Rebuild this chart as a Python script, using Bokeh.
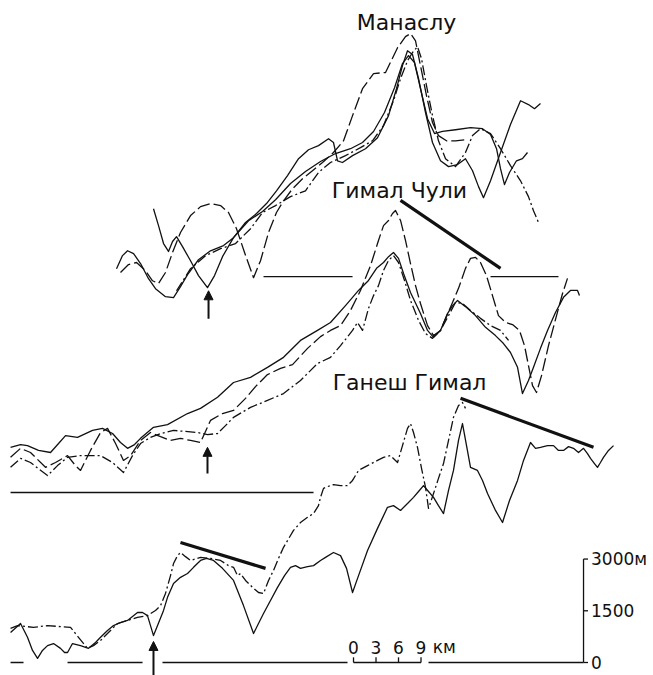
from bokeh.plotting import figure
from bokeh.models import Range1d, Arrow, NormalHead
from bokeh.core.properties import value
from bokeh.embed import file_html
from bokeh.resources import INLINE

# ---------------- data: distance along profile (km), height above profile base (m) ----------------
# Manaslu (4 profiles)
manaslu_a_km = [19.33,20.0,20.67,21.33,21.87,22.4,23.2,24.27,25.33,26.53,27.47,28.53,30.0,31.6,33.07,34.4,35.73,37.2,38.67,40.0,
                41.33,42.67,43.33,43.87,44.53,45.87,47.6,49.2,50.67,51.73,52.53,53.2,53.87,54.67,55.6,56.53,57.6,58.67,59.87,60.93,
                61.87,62.67,63.33,64.27,65.6,66.93,68.27,69.33,70.13,70.93]
manaslu_a_m = [1970,1480,960,730,1020,1160,870,460,30,-320,30,580,1130,1570,1830,2120,2490,2930,3420,3680,
               3800,4000,3890,3360,3310,3510,3710,4030,4670,5450,6120,6550,6440,5740,4760,3890,3360,3190,3250,3420,
               3070,2610,2290,2780,3600,4410,5100,4990,4870,5020]
manaslu_b_km = [14.4,15.2,15.87,16.67,17.6,18.67,19.6,20.93,22.0,22.93,23.87,25.33,26.93,28.67,30.0,32.0,33.87,35.6,37.6,39.6,
                41.6,43.6,45.6,47.2,48.67,50.13,51.47,52.53,53.33,54.13,54.93,55.87,56.8,57.87,59.6,61.6,63.2,64.27,65.07,65.6,
                66.13,66.8,67.73,68.53,69.2]
manaslu_b_m = [230,610,750,670,380,-60,-350,-580,-610,-290,60,490,750,900,1130,1620,1890,2230,2700,3050,
               3340,3570,3710,3890,4210,4760,5480,6180,6410,6210,5450,4580,4150,4210,4260,4320,4290,4120,3710,3130,
               2670,3020,3360,3420,3600]
manaslu_c_km = [22.4,24.27,26.27,28.27,30.27,32.27,33.87,35.6,37.6,39.6,41.33,42.93,44.93,46.93,48.53,50.0,51.33,52.27,53.2,53.87,
                54.53,55.07,55.73,56.53,57.33,58.27,59.6,60.93,61.87,62.93,64.27,65.6,66.93,68.27,69.33,70.0,70.67]
manaslu_c_m = [-410,230,610,810,960,1390,1860,2060,2320,2490,3020,3310,3510,3740,3940,4380,5100,5740,6260,6500,
               6670,6320,5540,4670,3940,3420,3190,3600,4090,4290,4150,3710,3220,2780,2320,1910,1570]
manaslu_d_km = [14.93,16.0,17.07,18.27,19.2,20.0,20.93,21.87,22.93,24.27,25.6,26.93,28.27,29.33,30.4,31.47,32.67,33.6,34.67,35.73,
                36.67,37.87,39.2,40.53,41.87,43.33,44.67,45.87,47.2,48.67,50.27,51.87,52.93,53.6,54.27,54.93,55.73,56.53,57.33,58.4,
                59.6,60.93]
manaslu_d_m = [120,350,410,170,-120,-200,120,700,1280,1770,2030,2120,2060,1860,1390,700,-30,460,1280,1860,
               2200,2550,2840,3070,3310,3600,3940,4670,5450,5890,5920,6640,6960,7050,6840,6120,5250,4470,4090,3940,
               3940,3970]

# Himal Chuli (3 profiles)
himal_a_km = [0.27,1.6,2.93,4.93,6.27,7.87,8.93,9.6,10.93,12.27,13.2,14.27,15.33,16.27,17.6,18.93,20.27,21.6,22.93,24.27,
              25.6,26.93,28.53,30.0,31.6,32.93,34.53,36.27,37.87,39.87,41.6,42.93,44.27,45.6,46.93,48.27,49.33,50.0,50.67,51.2,
              51.6,52.27,52.93,53.6,54.27,54.93,55.87,56.67,57.6,58.93,60.0,60.93,61.6,62.27,62.93,63.73,64.53,65.33,66.27,67.2,
              68.13,68.8,69.33,69.87,70.4,71.07,72.0,73.07,73.87,74.53]
himal_a_m = [1020,1280,1160,730,870,1070,780,640,1220,1740,1860,1420,930,1070,1510,1740,1620,1510,1570,1510,
             1450,2090,2290,2380,2730,3070,3420,3600,3710,4180,4520,4700,4840,5280,5860,6580,7310,7740,7890,8090,
             8180,7890,7310,6640,6000,5480,4840,4550,4700,5370,5920,6500,6790,6820,6670,6290,5710,5130,4930,4870,
             4700,4260,3680,3100,2900,3390,4260,5130,5770,6210]
himal_b_km = [0.27,1.6,2.53,4.0,5.6,6.67,7.6,9.2,11.2,12.53,13.87,14.93,15.87,16.8,17.6,19.33,21.2,23.87,25.6,27.87,
              30.0,32.27,34.53,36.67,38.93,41.2,42.93,44.93,46.67,48.0,49.07,50.0,50.67,51.33,52.0,52.67,53.6,54.93,55.87,56.67,
              57.6,58.53,59.2,59.87,60.93,62.27,63.6,64.93,66.0,66.93,67.87,68.53,69.33,70.0,70.93,71.87,72.93,74.0,74.93,75.87,
              76.13]
himal_b_m = [1310,1390,1360,1220,1160,1420,1650,1600,1800,1860,1710,1450,1280,1390,1570,1890,1970,2290,2440,2760,
             3190,3340,3630,3920,4410,4700,4930,5420,5860,6150,6500,6670,6840,6960,6790,6350,5800,5190,4700,4500,
             4700,5190,5420,5570,5390,5130,4790,4550,4320,4060,3630,2870,3250,3630,4180,4700,5220,5660,5860,5860,
             5710]
himal_c_km = [0.27,1.6,2.93,5.2,6.53,7.87,9.6,12.27,13.87,15.33,16.53,17.6,18.93,20.27,22.0,23.6,25.2,26.53,27.87,28.93,
              30.0,32.27,34.53,36.67,38.93,41.2,42.93,44.27,45.33,45.87,46.53,47.2,48.0,48.67,49.33,50.0,50.67,51.33,52.0,52.8,
              53.6,54.67,55.6,56.53,57.6,58.67,59.6,60.53,61.6,62.93,64.27,65.6,66.67]
himal_c_m = [730,990,870,490,780,1020,1070,1070,870,580,1070,1420,1600,1710,1800,1770,1740,1680,1710,1940,
             2180,2470,2670,2870,3250,3740,3920,4260,4550,4700,4930,4700,5340,5710,6000,6440,6730,6870,6670,6150,
             5570,4990,4610,4470,4700,5130,5510,5480,5280,5050,4840,4700,4410]

# Ganesh Himal (2 profiles)
ganesh_dd_km = [0.27,1.2,3.33,5.2,6.93,8.27,9.33,10.53,11.33,12.27,13.33,14.53,15.87,17.2,18.53,19.6,20.27,20.93,21.6,22.0,
                22.53,22.93,23.6,24.27,25.6,26.93,28.27,29.33,30.0,30.53,30.93,31.6,32.53,33.33,34.0,34.67,35.33,36.0,36.67,38.0,
                38.93,39.87,40.67,41.33,41.6,42.0,42.53,43.33,44.27,45.2,45.87,46.67,47.87,49.2,50.0,50.93,51.87,52.53,53.2,53.6,
                54.0,54.53,55.07,55.6,56.0,56.67,57.33,58.0,58.67,59.33,60.0,60.53,60.93]
ganesh_dd_m = [990,1070,1020,1070,1040,1020,730,410,490,640,870,1130,1220,1310,1360,1510,1650,2000,2520,2870,
               3100,3190,3070,2960,3050,3020,2960,2810,2760,2520,2580,2380,2180,2030,2000,2380,2670,3020,3340,3830,
               4060,4210,4320,4550,4790,5050,5100,5160,5130,5130,5280,5570,5710,5860,5950,6000,5800,6290,6790,6930,
               6670,6240,5630,5080,4470,4900,5340,5770,6440,7110,7450,7540,7370]
ganesh_s_km = [0.27,1.6,2.53,3.2,3.87,4.53,5.2,6.0,6.93,7.47,7.87,8.53,9.6,10.67,11.6,12.27,13.2,14.0,14.93,15.87,
               17.2,17.87,18.53,18.93,19.33,19.87,20.67,21.2,22.0,22.93,23.87,24.67,25.6,26.4,27.33,28.53,30.0,31.33,32.67,33.33,
               34.0,34.93,35.87,36.8,37.6,38.27,38.93,39.87,40.67,41.6,42.27,43.33,44.27,45.07,45.87,46.67,47.87,49.2,50.53,51.33,
               52.27,53.2,54.0,54.67,55.33,56.0,56.67,57.33,58.0,58.67,59.33,60.0,60.53,61.07,61.6,62.53,63.2,63.87,64.93,65.87,
               66.8,67.87,68.67,69.6,70.27,70.93,71.87,72.67,73.33,74.0,74.67,75.33,76.0,76.67,77.2,77.6,78.13,78.53,78.93,79.33,
               80.0,80.67]
ganesh_s_m = [870,1130,730,350,120,350,490,550,410,290,290,550,490,410,580,730,930,1070,1160,1220,
              1450,1450,1360,1070,780,1070,1510,1890,2290,2470,2580,2760,2960,3020,2960,2730,2380,1650,840,1130,
              1420,1800,2180,2520,2760,2810,2730,2780,2810,2960,3050,3190,3100,2730,2030,2520,3250,3890,4500,4550,
              4410,4610,4790,4960,5130,4960,4790,4550,4320,4990,5570,6440,6930,6290,5660,5570,5280,4900,4410,4060,
              4700,5280,5860,6380,6210,6240,6290,6290,6150,6150,6260,6210,6090,6210,6060,5920,5770,5660,5800,5950,
              6150,6290]

# summit-slope lines (km, m)
himal_slope_km = [52.27, 65.6]
himal_slope_m = [8470, 6500]
ganesh_slope1_km = [22.93, 34.27]
ganesh_slope1_m = [3480, 2730]
ganesh_slope2_km = [60.27, 78.0]
ganesh_slope2_m = [7660, 6240]

# profile base lines (start km, end km)
manaslu_base_km = [(34.0, 45.87), (64.27, 73.33)]
himal_base_km = [(0.27, 40.67)]
ganesh_base_km = [(0.27, 2.0), (7.87, 17.87), (20.53, 45.2), (56.0, 76.67)]

# arrows: km position, tail m, tip m (relative to profile base)
manaslu_arrow = (26.67, -1220, -410)
himal_arrow = (26.53, 550, 1310)
ganesh_arrow = (19.33, -380, 610)

titles = ["Манаслу", "Гимал Чули", "Ганеш Гимал"]
km_ticks = [0, 3, 6, 9]
height_ticks = [0, 1500, 3000]
height_labels = ["0", "1500", "3000м"]

# ---------------- layout constants ----------------
MANASLU_OFF = 11190
HIMAL_OFF = 4930
GANESH_OFF = 0
SCALE_X0 = 46.0
AXIS_X = 76.67

INK = "#111111"
SOLID = "solid"
DASHDOT = "10 3 2 3"
LONGDASH = "13 4"
FONT = value("DejaVu Sans")

p = figure(width=653, height=675, x_range=Range1d(-1.07, 86.0), y_range=Range1d(-377, 19198),
           output_backend="svg", toolbar_location=None, x_axis_type=None, y_axis_type=None,
           min_border=0, outline_line_color=None, title=None, background_fill_color="white")


def shifted(vals, off):
    return [v + off for v in vals]


profiles = [
    (manaslu_a_km, manaslu_a_m, MANASLU_OFF, SOLID),
    (manaslu_b_km, manaslu_b_m, MANASLU_OFF, SOLID),
    (manaslu_c_km, manaslu_c_m, MANASLU_OFF, DASHDOT),
    (manaslu_d_km, manaslu_d_m, MANASLU_OFF, LONGDASH),
    (himal_a_km, himal_a_m, HIMAL_OFF, LONGDASH),
    (himal_b_km, himal_b_m, HIMAL_OFF, SOLID),
    (himal_c_km, himal_c_m, HIMAL_OFF, DASHDOT),
    (ganesh_dd_km, ganesh_dd_m, GANESH_OFF, DASHDOT),
    (ganesh_s_km, ganesh_s_m, GANESH_OFF, SOLID),
]
for xs, ys, off, dash in profiles:
    p.line(xs, shifted(ys, off), line_color=INK, line_width=1.3, line_dash=dash, line_join="round")

# summit slope lines
for xs, ys, off in [(himal_slope_km, himal_slope_m, HIMAL_OFF),
                    (ganesh_slope1_km, ganesh_slope1_m, GANESH_OFF),
                    (ganesh_slope2_km, ganesh_slope2_m, GANESH_OFF)]:
    p.line(xs, shifted(ys, off), line_color=INK, line_width=3.2)

# base lines
bx0, bx1, by = [], [], []
for segs, off in [(manaslu_base_km, MANASLU_OFF), (himal_base_km, HIMAL_OFF), (ganesh_base_km, GANESH_OFF)]:
    for a, b in segs:
        bx0.append(a); bx1.append(b); by.append(off)
p.segment(x0=bx0, y0=by, x1=bx1, y1=by, line_color=INK, line_width=1.3)

# arrows
for (ax, tail, tip), off in [(manaslu_arrow, MANASLU_OFF), (himal_arrow, HIMAL_OFF), (ganesh_arrow, GANESH_OFF)]:
    p.add_layout(Arrow(end=NormalHead(size=9, fill_color=INK, line_color=INK),
                       x_start=ax, y_start=tail + off, x_end=ax, y_end=tip + off,
                       line_color=INK, line_width=2))

# titles
title_x = [53.07, 52.13, 53.47]
title_y = [18560, 13690, 8120]
p.text(x=title_x, y=title_y, text=titles, text_font=FONT, text_font_size="22px",
       text_align="center", text_baseline="middle", text_color=INK)

# distance scale bar
p.segment(x0=[SCALE_X0], y0=[0], x1=[SCALE_X0 + km_ticks[-1]], y1=[0], line_color=INK, line_width=1.3)
p.segment(x0=[SCALE_X0 + t for t in km_ticks], y0=[0] * len(km_ticks),
          x1=[SCALE_X0 + t for t in km_ticks], y1=[150] * len(km_ticks), line_color=INK, line_width=1.3)
p.text(x=[SCALE_X0 + t for t in km_ticks], y=[440] * len(km_ticks), text=[str(t) for t in km_ticks],
       text_font=FONT, text_font_size="17px", text_align="center", text_baseline="middle", text_color=INK)
p.text(x=[SCALE_X0 + km_ticks[-1] + 3.1], y=[440], text=["км"], text_font=FONT, text_font_size="17px",
       text_align="center", text_baseline="middle", text_color=INK)

# height scale
p.segment(x0=[AXIS_X], y0=[height_ticks[0]], x1=[AXIS_X], y1=[height_ticks[-1]], line_color=INK, line_width=1.3)
p.segment(x0=[AXIS_X] * 3, y0=height_ticks, x1=[AXIS_X + 0.6] * 3, y1=height_ticks, line_color=INK, line_width=1.3)
p.text(x=[AXIS_X + 1.0] * 3, y=height_ticks, text=height_labels, text_font=FONT, text_font_size="17px",
       text_align="left", text_baseline="middle", text_color=INK)

open("out.html", "w").write(file_html(p, INLINE))
